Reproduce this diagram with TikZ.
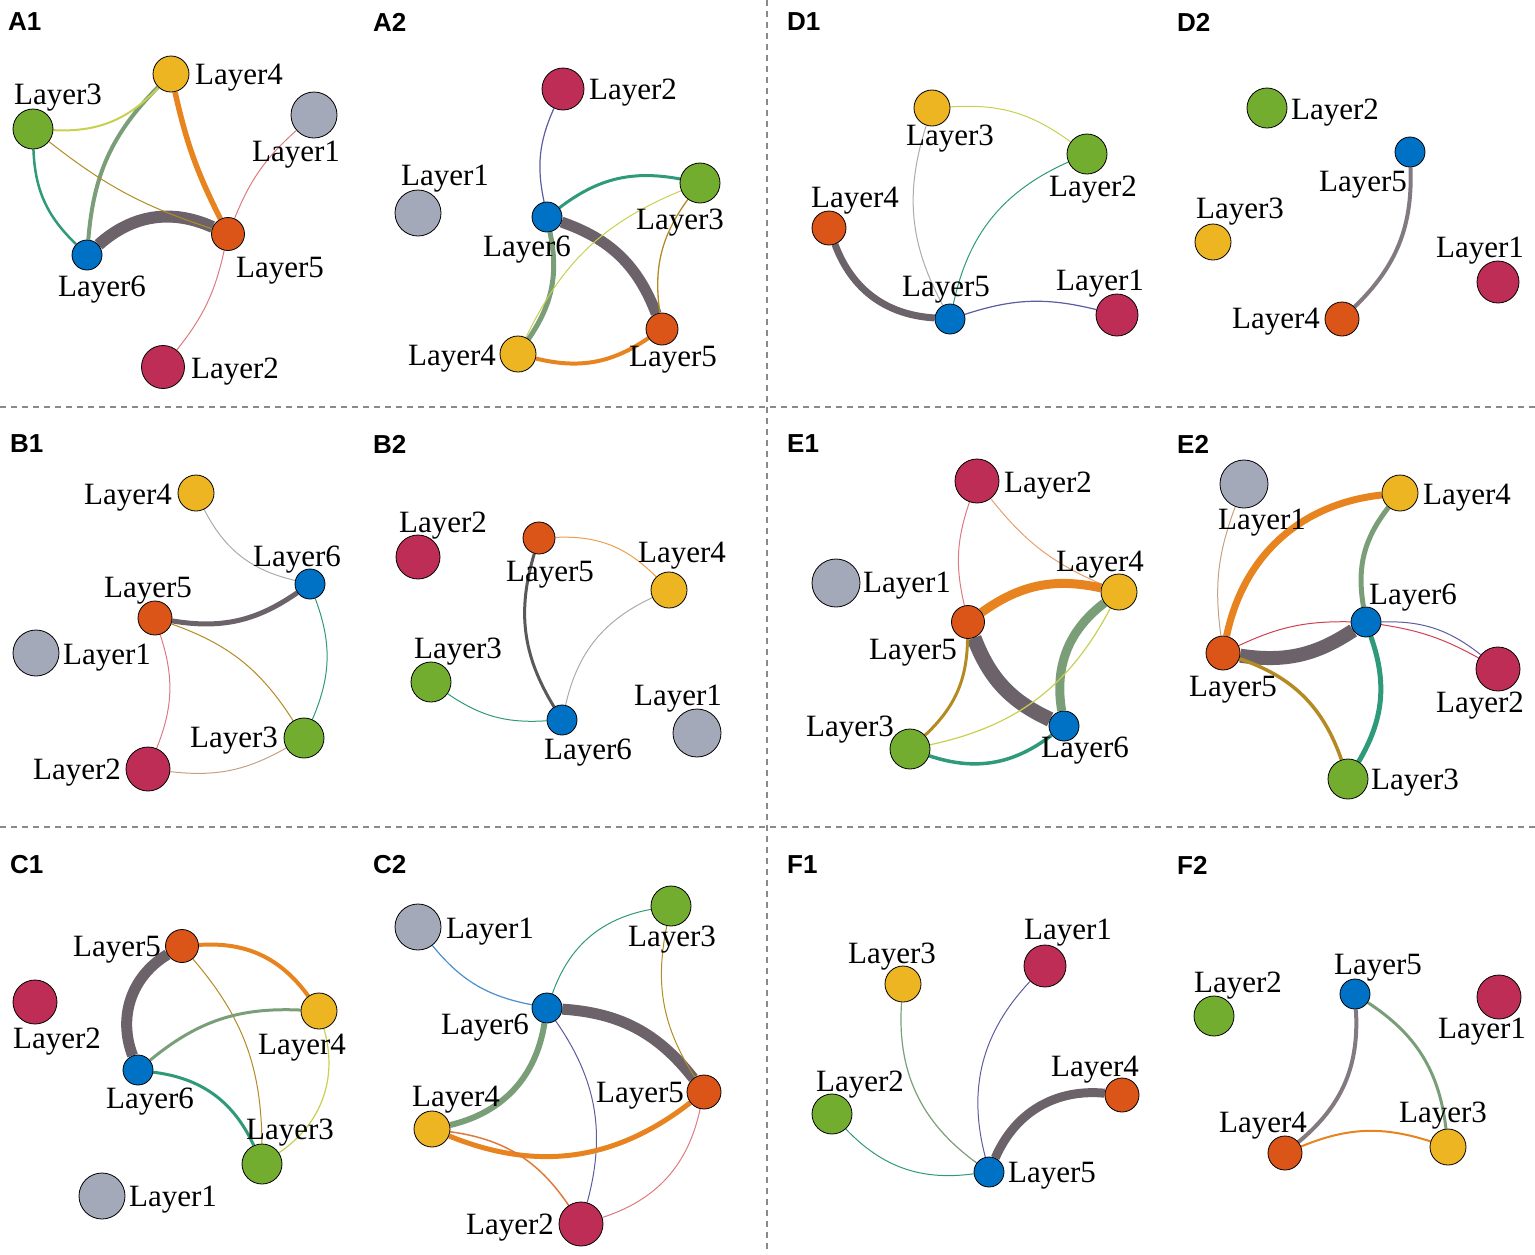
\documentclass[tikz,border=0pt]{standalone}
\usepackage{fontspec}
\setmainfont{Liberation Serif}
\setsansfont{Liberation Sans}
\usepackage{tikz}

\pgfdeclarelayer{bg}
\pgfsetlayers{bg,main}

\definecolor{ngray}{HTML}{A3A9B9}
\definecolor{nred}{HTML}{BD2D55}
\definecolor{ngreen}{HTML}{73AD30}
\definecolor{nyellow}{HTML}{EDB521}
\definecolor{norange}{HTML}{DB5418}
\definecolor{nblue}{HTML}{0072C6}
\definecolor{edark}{HTML}{6C6269}
\definecolor{eorange}{HTML}{E8841F}
\definecolor{esage}{HTML}{7A9E78}
\definecolor{eteal}{HTML}{2E9A7A}
\definecolor{eolive}{HTML}{B38B22}
\definecolor{eyg}{HTML}{C8D050}
\definecolor{epink}{HTML}{DD7A80}
\definecolor{enavy}{HTML}{5C5C9E}
\definecolor{egray}{HTML}{ABABAB}
\definecolor{etan}{HTML}{C8A080}
\definecolor{eblue}{HTML}{4A8FCC}
\definecolor{ered}{HTML}{D04050}
\definecolor{eorg}{HTML}{E07A3A}
\definecolor{elor}{HTML}{E8A070}
\definecolor{sepgray}{HTML}{8A8A8A}

\tikzset{
  lay/.style={circle,draw=black,line width=0.8pt,inner sep=0pt},
  lbl/.style={inner sep=0pt,yshift=-3pt,font=\fontsize{31}{36}\selectfont},
  tag/.style={inner sep=0pt,anchor=west,font=\sffamily\bfseries\fontsize{26}{30}\selectfont},
  sep/.style={sepgray,line width=1.6pt,dash pattern=on 6pt off 5pt}
}

\begin{document}
\begin{tikzpicture}[x=1pt,y=1pt]
\useasboundingbox (0,0) rectangle (1535,-1254);

\draw[sep] (767,0) -- (767,-1254);
\draw[sep] (0,-407) -- (1535,-407);
\draw[sep] (0,-827) -- (1535,-827);

\node[tag] (ta1) at (8,-22) {A1};
\node[tag] (ta2) at (373,-22) {A2};
\node[tag] (td1) at (787,-22) {D1};
\node[tag] (td2) at (1177,-22) {D2};
\node[tag] (tb1) at (10,-444) {B1};
\node[tag] (tb2) at (373,-444) {B2};
\node[tag] (te1) at (787,-444) {E1};
\node[tag] (te2) at (1177,-444) {E2};
\node[tag] (tc1) at (10,-865) {C1};
\node[tag] (tc2) at (373,-865) {C2};
\node[tag] (tf1) at (787,-865) {F1};
\node[tag] (tf2) at (1177,-865) {F2};

\node[lay,fill=nyellow,minimum size=36] (a1l4) at (171,-74) {};
\node[lay,fill=ngreen,minimum size=40] (a1l3) at (33,-129) {};
\node[lay,fill=ngray,minimum size=46] (a1l1) at (314,-115) {};
\node[lay,fill=norange,minimum size=33] (a1l5) at (228,-234) {};
\node[lay,fill=nblue,minimum size=30] (a1l6) at (87,-255) {};
\node[lay,fill=nred,minimum size=43] (a1l2) at (163,-367) {};
\node[lbl] (a1t4) at (239,-75) {Layer4};
\node[lbl] (a1t3) at (58,-95) {Layer3};
\node[lbl] (a1t1) at (296,-152) {Layer1};
\node[lbl] (a1t5) at (280,-268) {Layer5};
\node[lbl] (a1t6) at (102,-287) {Layer6};
\node[lbl] (a1t2) at (235,-369) {Layer2};

\node[lay,fill=nred,minimum size=42] (a2l2) at (563,-89) {};
\node[lay,fill=ngray,minimum size=46] (a2l1) at (418,-213) {};
\node[lay,fill=nblue,minimum size=30] (a2l6) at (547,-217) {};
\node[lay,fill=ngreen,minimum size=40] (a2l3) at (700,-183) {};
\node[lay,fill=norange,minimum size=32] (a2l5) at (662,-329) {};
\node[lay,fill=nyellow,minimum size=36] (a2l4) at (518,-354) {};
\node[lbl] (a2t2) at (633,-90) {Layer2};
\node[lbl] (a2t1) at (445,-176) {Layer1};
\node[lbl] (a2t6) at (527,-247) {Layer6};
\node[lbl] (a2t3) at (680,-220) {Layer3};
\node[lbl] (a2t5) at (673,-357) {Layer5};
\node[lbl] (a2t4) at (452,-356) {Layer4};

\node[lay,fill=nyellow,minimum size=36] (d1l3) at (932,-108) {};
\node[lay,fill=ngreen,minimum size=40] (d1l2) at (1087,-154) {};
\node[lay,fill=norange,minimum size=34] (d1l4) at (829,-228) {};
\node[lay,fill=nblue,minimum size=30] (d1l5) at (950,-319) {};
\node[lay,fill=nred,minimum size=42] (d1l1) at (1117,-315) {};
\node[lbl] (d1t3) at (950,-136) {Layer3};
\node[lbl] (d1t2) at (1093,-187) {Layer2};
\node[lbl] (d1t4) at (855,-198) {Layer4};
\node[lbl] (d1t5) at (946,-287) {Layer5};
\node[lbl] (d1t1) at (1100,-281) {Layer1};

\node[lay,fill=ngreen,minimum size=40] (d2l2) at (1267,-108) {};
\node[lay,fill=nblue,minimum size=30] (d2l5) at (1410,-152) {};
\node[lay,fill=nyellow,minimum size=36] (d2l3) at (1213,-242) {};
\node[lay,fill=nred,minimum size=42] (d2l1) at (1498,-282) {};
\node[lay,fill=norange,minimum size=34] (d2l4) at (1342,-319) {};
\node[lbl] (d2t2) at (1335,-110) {Layer2};
\node[lbl] (d2t5) at (1363,-182) {Layer5};
\node[lbl] (d2t3) at (1240,-209) {Layer3};
\node[lbl] (d2t1) at (1480,-248) {Layer1};
\node[lbl] (d2t4) at (1276,-319) {Layer4};

\node[lay,fill=nyellow,minimum size=36] (b1l4) at (196,-493) {};
\node[lay,fill=nblue,minimum size=30] (b1l6) at (310,-584) {};
\node[lay,fill=norange,minimum size=34] (b1l5) at (155,-618) {};
\node[lay,fill=ngray,minimum size=46] (b1l1) at (36,-653) {};
\node[lay,fill=ngreen,minimum size=40] (b1l3) at (304,-738) {};
\node[lay,fill=nred,minimum size=44] (b1l2) at (148,-769) {};
\node[lbl] (b1t4) at (128,-495) {Layer4};
\node[lbl] (b1t6) at (297,-557) {Layer6};
\node[lbl] (b1t5) at (148,-588) {Layer5};
\node[lbl] (b1t1) at (107,-655) {Layer1};
\node[lbl] (b1t3) at (234,-738) {Layer3};
\node[lbl] (b1t2) at (77,-770) {Layer2};

\node[lay,fill=nred,minimum size=44] (b2l2) at (418,-557) {};
\node[lay,fill=norange,minimum size=32] (b2l5) at (539,-538) {};
\node[lay,fill=nyellow,minimum size=36] (b2l4) at (669,-590) {};
\node[lay,fill=ngreen,minimum size=40] (b2l3) at (431,-682) {};
\node[lay,fill=nblue,minimum size=30] (b2l6) at (562,-720) {};
\node[lay,fill=ngray,minimum size=48] (b2l1) at (697,-733) {};
\node[lbl] (b2t2) at (443,-523) {Layer2};
\node[lbl] (b2t5) at (550,-572) {Layer5};
\node[lbl] (b2t4) at (682,-553) {Layer4};
\node[lbl] (b2t3) at (458,-649) {Layer3};
\node[lbl] (b2t6) at (588,-750) {Layer6};
\node[lbl] (b2t1) at (678,-696) {Layer1};

\node[lay,fill=nred,minimum size=44] (e1l2) at (977,-481) {};
\node[lay,fill=ngray,minimum size=48] (e1l1) at (836,-583) {};
\node[lay,fill=nyellow,minimum size=36] (e1l4) at (1119,-592) {};
\node[lay,fill=norange,minimum size=33] (e1l5) at (968,-622) {};
\node[lay,fill=nblue,minimum size=30] (e1l6) at (1064,-726) {};
\node[lay,fill=ngreen,minimum size=40] (e1l3) at (910,-749) {};
\node[lbl] (e1t2) at (1048,-483) {Layer2};
\node[lbl] (e1t1) at (907,-583) {Layer1};
\node[lbl] (e1t4) at (1100,-562) {Layer4};
\node[lbl] (e1t5) at (913,-650) {Layer5};
\node[lbl] (e1t6) at (1085,-748) {Layer6};
\node[lbl] (e1t3) at (850,-727) {Layer3};

\node[lay,fill=ngray,minimum size=48] (e2l1) at (1244,-484) {};
\node[lay,fill=nyellow,minimum size=36] (e2l4) at (1400,-493) {};
\node[lay,fill=nblue,minimum size=30] (e2l6) at (1366,-622) {};
\node[lay,fill=norange,minimum size=34] (e2l5) at (1223,-653) {};
\node[lay,fill=nred,minimum size=44] (e2l2) at (1498,-669) {};
\node[lay,fill=ngreen,minimum size=40] (e2l3) at (1348,-779) {};
\node[lbl] (e2t1) at (1262,-520) {Layer1};
\node[lbl] (e2t4) at (1467,-495) {Layer4};
\node[lbl] (e2t6) at (1413,-595) {Layer6};
\node[lbl] (e2t5) at (1233,-687) {Layer5};
\node[lbl] (e2t2) at (1480,-703) {Layer2};
\node[lbl] (e2t3) at (1415,-780) {Layer3};

\node[lay,fill=norange,minimum size=33] (c1l5) at (182,-946) {};
\node[lay,fill=nred,minimum size=44] (c1l2) at (35,-1002) {};
\node[lay,fill=nyellow,minimum size=36] (c1l4) at (319,-1011) {};
\node[lay,fill=nblue,minimum size=30] (c1l6) at (138,-1070) {};
\node[lay,fill=ngreen,minimum size=40] (c1l3) at (262,-1164) {};
\node[lay,fill=ngray,minimum size=46] (c1l1) at (102,-1196) {};
\node[lbl] (c1t5) at (117,-947) {Layer5};
\node[lbl] (c1t2) at (57,-1039) {Layer2};
\node[lbl] (c1t4) at (302,-1045) {Layer4};
\node[lbl] (c1t6) at (150,-1099) {Layer6};
\node[lbl] (c1t3) at (290,-1130) {Layer3};
\node[lbl] (c1t1) at (173,-1197) {Layer1};

\node[lay,fill=ngray,minimum size=46] (c2l1) at (418,-927) {};
\node[lay,fill=ngreen,minimum size=40] (c2l3) at (671,-906) {};
\node[lay,fill=nblue,minimum size=30] (c2l6) at (547,-1008) {};
\node[lay,fill=nyellow,minimum size=36] (c2l4) at (432,-1129) {};
\node[lay,fill=norange,minimum size=34] (c2l5) at (704,-1092) {};
\node[lay,fill=nred,minimum size=44] (c2l2) at (581,-1224) {};
\node[lbl] (c2t1) at (490,-929) {Layer1};
\node[lbl] (c2t3) at (672,-937) {Layer3};
\node[lbl] (c2t6) at (485,-1025) {Layer6};
\node[lbl] (c2t4) at (456,-1097) {Layer4};
\node[lbl] (c2t5) at (640,-1093) {Layer5};
\node[lbl] (c2t2) at (510,-1225) {Layer2};

\node[lay,fill=nred,minimum size=42] (f1l1) at (1045,-966) {};
\node[lay,fill=nyellow,minimum size=36] (f1l3) at (903,-984) {};
\node[lay,fill=norange,minimum size=34] (f1l4) at (1122,-1095) {};
\node[lay,fill=ngreen,minimum size=40] (f1l2) at (832,-1114) {};
\node[lay,fill=nblue,minimum size=30] (f1l5) at (989,-1172) {};
\node[lbl] (f1t1) at (1068,-930) {Layer1};
\node[lbl] (f1t3) at (892,-954) {Layer3};
\node[lbl] (f1t4) at (1095,-1067) {Layer4};
\node[lbl] (f1t2) at (860,-1082) {Layer2};
\node[lbl] (f1t5) at (1052,-1173) {Layer5};

\node[lay,fill=ngreen,minimum size=40] (f2l2) at (1214,-1016) {};
\node[lay,fill=nblue,minimum size=30] (f2l5) at (1355,-994) {};
\node[lay,fill=nred,minimum size=44] (f2l1) at (1499,-997) {};
\node[lay,fill=norange,minimum size=34] (f2l4) at (1285,-1153) {};
\node[lay,fill=nyellow,minimum size=36] (f2l3) at (1448,-1147) {};
\node[lbl] (f2t2) at (1238,-983) {Layer2};
\node[lbl] (f2t5) at (1378,-965) {Layer5};
\node[lbl] (f2t1) at (1482,-1029) {Layer1};
\node[lbl] (f2t4) at (1263,-1123) {Layer4};
\node[lbl] (f2t3) at (1443,-1113) {Layer3};

\begin{pgfonlayer}{bg}
\draw[edark,line width=12] (a1l6) to[bend left=33] (a1l5);
\draw[eorange,line width=5.5] (a1l4) to[bend right=7] (a1l5);
\draw[esage,line width=4] (a1l4) to[bend right=20] (a1l6);
\draw[eyg,line width=2] (a1l3) to[bend right=25] (a1l4);
\draw[eteal,line width=2.5] (a1l3) to[bend right=22] (a1l6);
\draw[eolive,line width=1] (a1l3) to[bend right=10] (a1l5);
\draw[epink,line width=1] (a1l1) to[bend right=13] (a1l5);
\draw[epink,line width=1] (a1l5) to[bend left=13] (a1l2);

\draw[enavy,line width=1.2] (a2l2) to[bend right=18] (a2l6);
\draw[eteal,line width=3] (a2l6) to[bend left=24] (a2l3);
\draw[edark,line width=11] (a2l6) to[bend left=25] (a2l5);
\draw[esage,line width=5] (a2l6) to[bend left=23] (a2l4);
\draw[eyg,line width=1] (a2l3) to[bend right=21] (a2l4);
\draw[eolive,line width=1.3] (a2l3) to[bend right=22] (a2l5);
\draw[eorange,line width=4] (a2l4) to[bend right=24] (a2l5);

\draw[eyg,line width=1] (d1l3) to[bend left=20] (d1l2);
\draw[egray,line width=1] (d1l3) to[bend right=23] (d1l5);
\draw[eteal,line width=1] (d1l2) to[bend right=27] (d1l5);
\draw[edark,line width=7] (d1l4) to[bend right=33] (d1l5);
\draw[enavy,line width=1.2] (d1l5) to[bend left=16] (d1l1);

\draw[edark!85,line width=4] (d2l5) to[bend left=24] (d2l4);

\draw[egray,line width=1] (b1l4) to[bend right=25] (b1l6);
\draw[edark,line width=5] (b1l5) to[bend right=22] (b1l6);
\draw[eolive,line width=1] (b1l5) to[bend left=19] (b1l3);
\draw[eteal,line width=1] (b1l6) to[bend left=22] (b1l3);
\draw[epink,line width=1] (b1l5) to[bend left=20] (b1l2);
\draw[etan,line width=1] (b1l2) to[bend right=18] (b1l3);

\draw[eorange!80,line width=1] (b2l5) to[bend left=24] (b2l4);
\draw[black!65,line width=3] (b2l5) to[bend right=24] (b2l6);
\draw[egray,line width=1] (b2l4) to[bend right=26] (b2l6);
\draw[eteal,line width=1] (b2l3) to[bend right=19] (b2l6);

\draw[epink,line width=1] (e1l2) to[bend right=16] (e1l5);
\draw[elor,line width=1] (e1l2) to[bend right=14] (e1l4);
\draw[eorange,line width=9] (e1l5) to[bend left=24] (e1l4);
\draw[edark,line width=15] (e1l5) to[bend right=22] (e1l6);
\draw[esage,line width=9] (e1l4) to[bend right=31] (e1l6);
\draw[eolive,line width=3] (e1l5) to[bend left=23] (e1l3);
\draw[eyg,line width=1.2] (e1l3) to[bend right=25] (e1l4);
\draw[eteal,line width=3.5] (e1l3) to[bend right=28] (e1l6);

\draw[etan,line width=1] (e2l1) to[bend right=14] (e2l5);
\draw[eorange,line width=7] (e2l5) to[bend left=36] (e2l4);
\draw[esage,line width=5] (e2l4) to[bend right=24] (e2l6);
\draw[edark,line width=14] (e2l5) to[bend right=21] (e2l6);
\draw[ered,line width=1] (e2l5) to[bend left=13] (e2l6);
\draw[ered,line width=1] (e2l6) to[bend left=10] (e2l2);
\draw[enavy,line width=1] (e2l6) to[bend left=20] (e2l2);
\draw[eolive,line width=3.5] (e2l5) to[bend left=26] (e2l3);
\draw[eteal,line width=5] (e2l6) to[bend left=25] (e2l3);

\draw[edark,line width=11] (c1l5) to[bend right=40] (c1l6);
\draw[eorange,line width=4] (c1l5) to[bend left=29] (c1l4);
\draw[eolive,line width=1] (c1l5) to[bend left=20] (c1l3);
\draw[esage,line width=3] (c1l6) to[bend left=21] (c1l4);
\draw[eteal,line width=3] (c1l6) to[bend left=29] (c1l3);
\draw[eyg,line width=1.2] (c1l4) to[bend left=36] (c1l3);

\draw[eblue,line width=1.2] (c2l1) to[bend right=20] (c2l6);
\draw[eteal,line width=1] (c2l6) to[bend left=30] (c2l3);
\draw[edark,line width=11] (c2l6) to[bend left=24] (c2l5);
\draw[esage,line width=6] (c2l6) to[bend left=34] (c2l4);
\draw[enavy,line width=1] (c2l6) to[bend left=25] (c2l2);
\draw[eolive,line width=1] (c2l3) to[bend right=22] (c2l5);
\draw[eorange,line width=5] (c2l4) to[bend right=30] (c2l5);
\draw[eorg,line width=1.5] (c2l4) to[bend left=24] (c2l2);
\draw[epink,line width=1] (c2l5) to[bend left=30] (c2l2);

\draw[esage,line width=1.2] (f1l3) to[bend right=29] (f1l5);
\draw[enavy,line width=1] (f1l1) to[bend right=29] (f1l5);
\draw[eteal,line width=1] (f1l2) to[bend right=27] (f1l5);
\draw[edark,line width=9] (f1l5) to[bend left=36] (f1l4);

\draw[edark!85,line width=4] (f2l5) to[bend left=27] (f2l4);
\draw[esage,line width=3] (f2l5) to[bend left=25] (f2l3);
\draw[eorange,line width=2] (f2l4) to[bend left=20] (f2l3);
\end{pgfonlayer}
\end{tikzpicture}
\end{document}
